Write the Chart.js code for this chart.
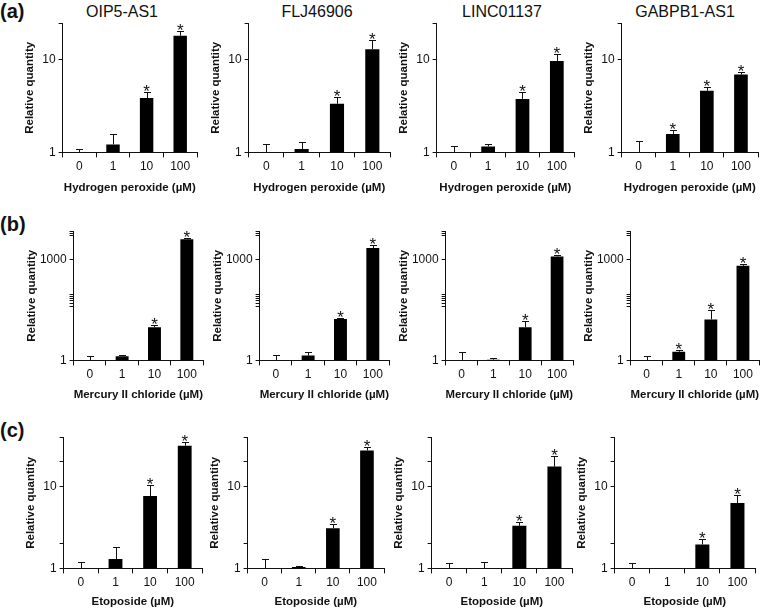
<!DOCTYPE html>
<html>
<head>
<meta charset="utf-8">
<script src="https://cdn.jsdelivr.net/npm/chart.js@4/dist/chart.umd.min.js"></script>
<style>
  body { margin: 0; background: #fff; }
  #fig { position: relative; width: 760px; height: 610px; overflow: hidden; font-family: Arial, "Liberation Sans", sans-serif; color: #111; }
  #fig canvas { position: absolute; }
  .gene { position: absolute; font-size: 16px; transform: translateX(-50%); white-space: nowrap; line-height: 16px; }
  .letter { position: absolute; left: 0; font-size: 20px; font-weight: bold; line-height: 20px; }
</style>
</head>
<body>
<div id="fig"></div>
<script>
// --- data ---
const doses = ['0', '1', '10', '100'];
const genes = ['OIP5-AS1', 'FLJ46906', 'LINC01137', 'GABPB1-AS1'];
const treatments = ['Hydrogen peroxide (\u00b5M)', 'Mercury II chloride (\u00b5M)', 'Etoposide (\u00b5M)'];
const rowLetters = ['(a)', '(b)', '(c)'];

// mean relative quantity, one array per gene
const h2o2Means = [[1.0, 1.22, 3.88, 18.3], [1.0, 1.09, 3.36, 13.1], [1.0, 1.16, 3.79, 9.77], [1.0, 1.585, 4.65, 6.95]];
const h2o2ErrTops = [[1.09, 1.6, 4.54, 20.7], [1.22, 1.30, 3.95, 16.5], [1.16, 1.22, 4.46, 11.5], [1.33, 1.76, 5.04, 7.42]];
const hgMeans = [[1.0, 1.33, 9.7, 3900], [1.0, 1.39, 16.9, 2150], [1.0, 1.05, 9.7, 1210], [1.0, 1.81, 16.4, 641]];
const hgErrTops = [[1.39, 1.4, 11.3, 4370], [1.49, 1.73, 18.6, 2680], [1.73, 1.2, 14.8, 1300], [1.33, 2.07, 31.8, 700]];
const etoMeans = [[1.0, 1.30, 7.65, 31.5], [1.0, 1.04, 3.1, 27.5], [1.0, 1.0, 3.31, 17.5], [1.0, 1.0, 1.96, 6.3]];
const etoErrTops = [[1.21, 1.82, 10.3, 34.7], [1.3, 1.08, 3.5, 30.2], [1.15, 1.19, 3.66, 23.9], [1.18, null, 2.29, 7.8]];

// significance marks (1 = asterisk)
const h2o2Stars = [[0, 0, 1, 1], [0, 0, 1, 1], [0, 0, 1, 1], [0, 1, 1, 1]];
const hgStars = [[0, 0, 1, 1], [0, 0, 1, 1], [0, 0, 1, 1], [0, 1, 1, 1]];
const etoStars = [[0, 0, 1, 1], [0, 0, 1, 1], [0, 0, 1, 1], [0, 0, 1, 1]];

// y axis: range, tick marks and labelled ticks per row
const yMax = [25, 6800, 40];
const yTickMarks = [[1, 10, 25], [1, 40, 50, 60, 70, 80, 90, 1000, 5000, 6000, 6800], [1, 2, 10, 20, 40]];
const yTickLabels = [[1, 10], [1, 1000], [1, 10]];

const rowMeans = [h2o2Means, hgMeans, etoMeans];
const rowErrs = [h2o2ErrTops, hgErrTops, etoErrTops];
const rowStars = [h2o2Stars, hgStars, etoStars];

// plot-area boxes (left, right) per row/column and (top, bottom) per row
const rowTB = [[19, 152], [227, 360], [433, 568]];
const colLR = [
  [[63, 197], [249, 390], [437, 574], [622, 758]],
  [[74, 203], [260, 389], [446, 573], [631, 759]],
  [[64, 202], [248, 384], [432, 572], [615, 755]]
];
const yTitleGap = [33, 42, 33];
const xTitleGap = [36, 35, 34];
const geneTitleX = [122, 317, 502, 685];

const FONT = 'Arial, "Liberation Sans", sans-serif';
const INK = '#111';

const errorBarPlugin = {
  id: 'errorBars',
  afterDatasetsDraw(chart, args, opts) {
    const ctx = chart.ctx;
    const y = chart.scales.y;
    const meta = chart.getDatasetMeta(0);
    ctx.save();
    ctx.strokeStyle = INK;
    ctx.fillStyle = INK;
    ctx.lineWidth = 1;
    meta.data.forEach((bar, i) => {
      const top = opts.errs[i];
      let markY = bar.y;
      if (top != null) {
        const ey = Math.round(y.getPixelForValue(top)) + 0.5;
        const x = Math.round(bar.x) + 0.5;
        ctx.beginPath();
        ctx.moveTo(x, bar.y);
        ctx.lineTo(x, ey);
        ctx.moveTo(x - 3.5, ey);
        ctx.lineTo(x + 3.5, ey);
        ctx.stroke();
        markY = ey;
      }
      if (opts.stars[i]) {
        ctx.font = '17px ' + FONT;
        ctx.textAlign = 'center';
        ctx.textBaseline = 'alphabetic';
        ctx.fillText('*', bar.x, markY + 4);
      }
    });
    ctx.restore();
  }
};

const fig = document.getElementById('fig');

rowLetters.forEach((txt, r) => {
  const d = document.createElement('div');
  d.className = 'letter';
  d.style.top = (rowTB[r][0] - (r === 0 ? 18 : 13)) + 'px';
  d.textContent = txt;
  fig.appendChild(d);
});

genes.forEach((g, c) => {
  const d = document.createElement('div');
  d.className = 'gene';
  d.style.left = geneTitleX[c] + 'px';
  d.style.top = '4px';
  d.textContent = g;
  fig.appendChild(d);
});

for (let r = 0; r < 3; r++) {
  for (let c = 0; c < 4; c++) {
    const [L, R] = colLR[r][c];
    const [T, B] = rowTB[r];
    const YW = yTitleGap[r] + 6.6;
    const XH = xTitleGap[r] + 6.6;
    const PT = 6, PR = 4;
    const cv = document.createElement('canvas');
    cv.width = Math.round(R - L + YW + PR);
    cv.height = Math.round(B - T + PT + XH);
    cv.style.left = (L - YW) + 'px';
    cv.style.top = (T - PT) + 'px';
    fig.appendChild(cv);

    new Chart(cv.getContext('2d'), {
      type: 'bar',
      data: {
        labels: doses,
        datasets: [{
          data: rowMeans[r][c],
          backgroundColor: '#000',
          borderWidth: 0,
          categoryPercentage: 1,
          barPercentage: 0.4
        }]
      },
      options: {
        responsive: false,
        animation: false,
        devicePixelRatio: 1,
        layout: { autoPadding: false, padding: { top: PT, right: PR, left: 0, bottom: 0 } },
        plugins: {
          legend: { display: false },
          tooltip: { enabled: false },
          errorBars: { errs: rowErrs[r][c], stars: rowStars[r][c] }
        },
        scales: {
          x: {
            grid: { display: true, drawOnChartArea: false, drawTicks: true, tickLength: 5, color: INK, offset: true },
            border: { color: INK, width: 1 },
            ticks: { color: INK, font: { family: FONT, size: 12 }, padding: 2, maxRotation: 0 },
            title: { display: true, text: treatments[r], color: INK, font: { family: FONT, size: 11.5, weight: 'bold' }, padding: 0 },
            afterFit: (s) => { s.height = XH; }
          },
          y: {
            type: 'logarithmic',
            min: 1,
            max: yMax[r],
            afterBuildTicks: (s) => { s.ticks = yTickMarks[r].map(v => ({ value: v })); },
            grid: { drawOnChartArea: false, drawTicks: true, tickLength: 4, color: INK },
            border: { color: INK, width: 1 },
            ticks: {
              color: INK,
              autoSkip: false,
              font: { family: FONT, size: 12 },
              padding: 3,
              callback: (v) => yTickLabels[r].includes(v) ? String(v) : ''
            },
            title: { display: true, text: 'Relative quantity', color: INK, font: { family: FONT, size: 11.5, weight: 'bold' }, padding: 0 },
            afterFit: (s) => { s.width = YW; }
          }
        }
      },
      plugins: [errorBarPlugin]
    });
  }
}
</script>
</body>
</html>
